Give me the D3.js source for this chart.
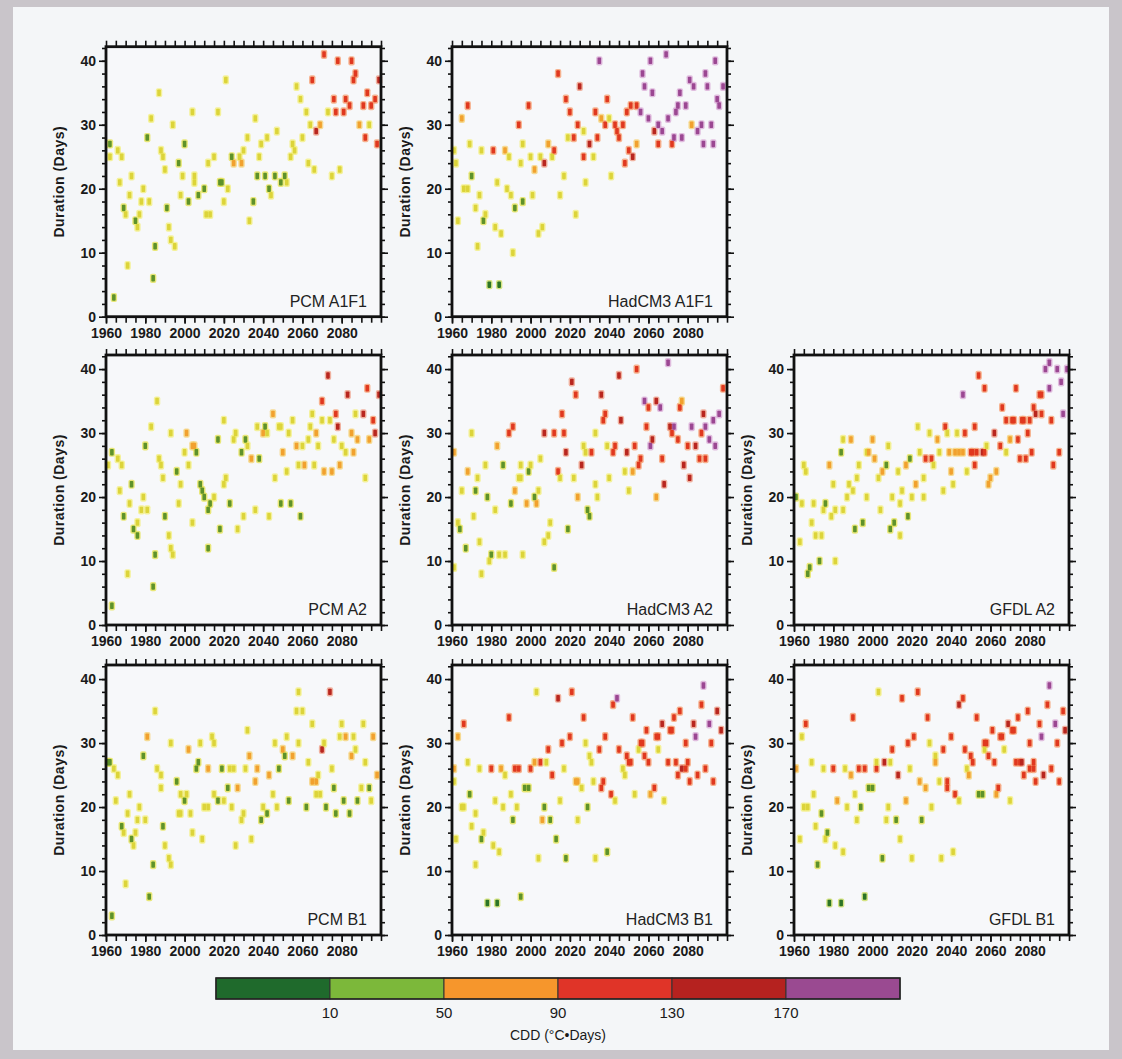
<!DOCTYPE html>
<html><head><meta charset="utf-8">
<script src="https://cdn.jsdelivr.net/npm/d3@7"></script>
<style>body{margin:0;background:#c9c5ca;} svg{display:block}</style>
</head><body><svg id="c" width="1122" height="1059"></svg>
<script>
// ---- tick labels / legend ----
const xTickLabels = [1960, 1980, 2000, 2020, 2040, 2060, 2080];
const yTickLabels = [0, 10, 20, 30, 40];
const cddBreaks = [10, 50, 90, 130, 170];
const cddLegendColors = ["#1f6a2c", "#7cb83a", "#f6962c", "#e03428", "#b5221f", "#9a4a91"];
const cddTitle = "CDD (°C•Days)";
const yTitle = "Duration (Days)";

// ---- data: [year, duration (days), CDD (°C·days)] ----
const pcmA1F1 = [[1962,27,25],[1962,25,40],[1964,3,25],[1966,26,40],[1968,25,40],[1967,21,40],[1969,17,25],[1970,16,40],[1971,8,40],[1972,19,40],[1973,22,40],[1975,15,25],[1976,14,40],[1977,16,40],[1978,18,40],[1979,20,40],[1981,28,25],[1982,18,40],[1983,31,40],[1984,6,25],[1985,11,25],[1987,35,40],[1988,26,40],[1989,25,40],[1990,23,40],[1991,17,25],[1992,14,40],[1993,12,40],[1995,11,40],[1994,30,40],[1997,24,25],[1998,19,40],[1999,22,40],[2000,27,25],[2002,18,25],[2004,32,40],[2005,21,40],[2005,22,40],[2007,19,25],[2010,20,25],[2011,16,40],[2013,16,40],[2012,24,40],[2015,25,40],[2017,32,40],[2018,21,25],[2019,21,25],[2020,18,40],[2021,37,40],[2022,20,40],[2024,25,25],[2025,24,70],[2028,25,40],[2029,24,70],[2030,26,40],[2032,28,40],[2033,15,40],[2035,18,25],[2036,31,40],[2037,22,25],[2038,25,40],[2039,27,40],[2041,22,25],[2042,28,40],[2043,20,25],[2044,19,40],[2046,22,25],[2047,29,40],[2049,21,25],[2051,22,25],[2052,21,40],[2054,25,40],[2055,27,40],[2056,26,40],[2057,36,45],[2059,34,40],[2060,28,40],[2062,32,40],[2063,24,40],[2066,23,40],[2064,30,40],[2065,37,110],[2067,29,150],[2069,30,70],[2071,41,110],[2073,32,45],[2075,22,40],[2076,34,110],[2077,32,110],[2078,40,110],[2079,23,40],[2081,32,110],[2082,34,110],[2084,33,110],[2085,40,110],[2086,37,110],[2087,38,110],[2089,30,70],[2091,33,110],[2092,28,110],[2093,35,110],[2094,30,40],[2095,33,110],[2097,34,110],[2098,27,110],[2099,37,150]];

const hadA1F1 = [[1961,26,40],[1962,24,40],[1963,15,40],[1965,31,70],[1966,20,40],[1968,20,40],[1968,33,110],[1969,27,40],[1970,22,25],[1972,17,40],[1973,11,40],[1974,19,40],[1975,26,40],[1976,15,25],[1977,16,40],[1979,5,5],[1981,26,110],[1982,14,40],[1983,21,40],[1984,5,5],[1985,13,40],[1987,26,70],[1988,20,40],[1989,25,40],[1990,19,40],[1991,10,40],[1992,17,25],[1994,30,110],[1995,24,40],[1996,18,25],[1996,27,40],[1999,33,110],[2000,25,40],[2001,19,40],[2002,23,70],[2004,13,40],[2006,14,40],[2005,25,40],[2007,24,150],[2009,27,70],[2011,25,45],[2012,26,110],[2014,38,110],[2015,19,40],[2017,22,40],[2018,34,110],[2019,28,40],[2020,32,110],[2022,28,110],[2023,16,40],[2024,30,110],[2025,36,150],[2027,29,40],[2027,25,110],[2028,21,40],[2030,27,150],[2032,25,40],[2033,32,110],[2034,28,110],[2035,40,190],[2036,31,70],[2038,30,110],[2039,34,110],[2040,31,40],[2041,22,45],[2043,30,110],[2044,29,110],[2045,28,110],[2047,30,110],[2048,24,110],[2049,32,110],[2050,26,110],[2051,33,110],[2052,25,150],[2054,33,110],[2054,27,70],[2056,32,190],[2057,38,190],[2058,36,190],[2060,31,190],[2061,40,190],[2062,35,190],[2063,29,150],[2065,30,190],[2065,27,110],[2067,29,190],[2069,41,190],[2070,31,190],[2072,27,110],[2073,28,190],[2074,32,190],[2075,33,190],[2076,35,190],[2077,28,190],[2079,33,190],[2081,37,190],[2082,30,70],[2083,36,190],[2085,29,190],[2087,30,190],[2088,27,190],[2089,38,190],[2090,36,190],[2092,30,190],[2093,27,190],[2094,40,190],[2095,34,190],[2096,33,190],[2098,36,190]];

const pcmA2 = [[1961,25,40],[1963,27,25],[1963,3,25],[1966,26,40],[1967,21,40],[1968,25,40],[1969,17,25],[1971,8,40],[1972,19,40],[1973,22,25],[1974,15,25],[1976,14,25],[1976,16,40],[1978,18,40],[1979,20,40],[1980,28,25],[1981,18,40],[1983,31,40],[1984,6,25],[1985,11,25],[1986,35,40],[1987,26,40],[1988,25,40],[1989,23,40],[1990,17,25],[1992,14,40],[1993,12,40],[1994,11,40],[1993,30,40],[1996,24,25],[1997,19,40],[1998,22,40],[2000,27,40],[2001,30,70],[2002,25,40],[2004,16,40],[2004,28,70],[2005,28,70],[2006,27,25],[2008,22,25],[2009,21,25],[2010,20,25],[2012,18,25],[2012,12,25],[2013,19,25],[2015,20,40],[2017,29,25],[2018,15,25],[2020,22,40],[2021,23,40],[2020,32,40],[2023,19,25],[2025,29,40],[2026,30,40],[2027,15,40],[2029,27,25],[2030,17,40],[2031,29,25],[2032,28,40],[2034,26,70],[2036,18,40],[2037,31,40],[2038,26,25],[2040,30,70],[2041,31,25],[2042,30,40],[2043,17,40],[2045,33,70],[2046,23,40],[2048,31,40],[2049,19,25],[2049,31,40],[2050,27,70],[2052,24,45],[2053,30,40],[2054,19,25],[2055,32,40],[2057,28,70],[2058,25,40],[2059,17,25],[2060,28,40],[2061,25,70],[2063,29,40],[2064,31,40],[2065,33,40],[2066,25,40],[2067,30,70],[2068,28,40],[2070,35,110],[2070,32,40],[2071,24,70],[2073,39,150],[2074,32,40],[2075,24,70],[2076,29,40],[2077,33,110],[2078,31,150],[2079,25,70],[2080,28,40],[2082,27,40],[2083,36,150],[2085,30,70],[2086,27,70],[2087,33,40],[2088,29,70],[2091,33,150],[2092,23,40],[2093,37,110],[2094,29,70],[2096,32,110],[2097,30,150],[2099,36,150]];

const hadA2 = [[1961,27,70],[1961,9,40],[1963,16,40],[1964,15,25],[1965,21,40],[1967,12,25],[1968,24,70],[1970,30,45],[1971,17,40],[1972,21,25],[1973,23,40],[1974,13,40],[1975,8,40],[1977,25,40],[1978,20,25],[1979,10,40],[1980,11,25],[1982,18,40],[1983,28,70],[1984,11,40],[1987,11,40],[1986,25,25],[1989,30,110],[1990,19,25],[1991,31,110],[1992,21,70],[1994,23,40],[1995,25,40],[1995,23,40],[1996,11,40],[1998,19,70],[1999,24,25],[2000,25,40],[2002,20,25],[2003,19,70],[2004,21,40],[2005,26,40],[2007,30,150],[2007,13,40],[2009,14,40],[2010,16,40],[2012,30,110],[2012,9,25],[2014,24,110],[2015,23,40],[2016,33,110],[2017,30,110],[2018,27,150],[2019,15,25],[2021,38,150],[2022,23,40],[2023,36,110],[2024,20,70],[2026,25,150],[2027,28,40],[2028,27,40],[2029,18,25],[2030,17,25],[2031,27,110],[2033,22,40],[2033,30,40],[2034,20,40],[2036,36,150],[2037,32,110],[2038,33,110],[2039,28,40],[2040,23,30],[2042,27,110],[2043,28,110],[2045,39,150],[2046,32,150],[2048,24,40],[2049,27,150],[2050,21,40],[2052,24,70],[2053,28,110],[2054,40,110],[2055,25,110],[2056,26,110],[2058,35,190],[2059,31,110],[2060,34,110],[2061,28,190],[2062,29,150],[2064,20,70],[2064,35,150],[2066,34,190],[2067,26,110],[2068,22,150],[2070,41,190],[2071,31,150],[2072,30,110],[2073,31,190],[2075,29,110],[2076,34,110],[2077,35,70],[2078,25,150],[2080,28,110],[2081,23,150],[2082,31,190],[2084,28,150],[2086,26,110],[2089,26,110],[2087,30,110],[2088,33,150],[2089,31,190],[2091,29,190],[2093,32,190],[2094,28,190],[2096,33,190],[2098,37,110]];

const gfdlA2 = [[1961,20,25],[1963,13,40],[1964,19,40],[1965,25,40],[1966,24,40],[1967,8,25],[1968,9,25],[1969,16,40],[1970,19,40],[1971,14,40],[1974,14,40],[1973,10,25],[1975,18,40],[1976,19,25],[1978,25,70],[1979,17,40],[1980,22,40],[1981,10,40],[1981,18,40],[1984,27,25],[1985,29,40],[1985,18,40],[1987,20,40],[1988,22,40],[1989,29,70],[1990,21,40],[1991,15,25],[1992,23,40],[1993,25,40],[1995,16,25],[1997,27,40],[1998,27,70],[1997,20,40],[2000,29,70],[2001,26,70],[2003,23,40],[2004,18,40],[2005,24,70],[2007,25,25],[2008,28,40],[2009,15,25],[2011,16,25],[2010,20,40],[2013,24,40],[2014,19,40],[2014,14,40],[2015,21,40],[2017,25,70],[2018,17,25],[2019,26,25],[2020,20,40],[2022,22,70],[2023,31,40],[2024,27,40],[2026,23,30],[2026,20,40],[2027,26,110],[2030,26,110],[2029,30,40],[2031,25,40],[2033,29,70],[2034,27,40],[2036,21,40],[2037,31,110],[2038,30,40],[2039,27,70],[2040,24,70],[2041,22,45],[2042,27,70],[2043,30,40],[2044,27,70],[2046,36,190],[2046,27,70],[2047,30,110],[2048,24,40],[2050,27,110],[2051,27,110],[2052,31,110],[2052,25,110],[2053,27,110],[2054,39,110],[2056,27,150],[2057,27,110],[2057,37,110],[2058,28,40],[2059,22,70],[2060,23,70],[2062,30,150],[2063,24,70],[2065,28,110],[2066,34,110],[2068,32,110],[2068,27,40],[2070,29,70],[2071,32,110],[2072,32,110],[2073,37,110],[2074,29,110],[2075,26,110],[2078,26,110],[2076,32,110],[2077,32,110],[2079,30,110],[2080,32,110],[2081,27,110],[2082,34,110],[2083,33,150],[2085,36,110],[2086,36,110],[2086,33,110],[2088,40,190],[2090,41,190],[2090,37,190],[2091,32,110],[2092,25,110],[2094,40,190],[2095,27,110],[2096,38,190],[2097,33,190],[2099,40,190]];

const pcmB1 = [[1961,27,25],[1962,27,25],[1963,3,25],[1964,26,40],[1966,25,40],[1965,21,40],[1968,17,25],[1969,16,40],[1970,8,40],[1971,19,40],[1972,22,40],[1973,15,25],[1974,14,40],[1975,16,40],[1976,18,40],[1977,20,40],[1979,28,25],[1980,18,40],[1981,31,70],[1982,6,25],[1984,11,25],[1985,35,40],[1986,26,40],[1988,25,40],[1988,23,40],[1989,17,25],[1990,14,40],[1992,12,40],[1993,11,40],[1993,30,40],[1996,24,25],[1997,19,40],[1998,19,40],[1998,22,40],[2000,21,25],[2001,22,40],[2002,29,70],[2003,19,40],[2004,16,40],[2006,26,25],[2007,27,25],[2008,30,40],[2009,15,40],[2010,20,40],[2012,20,40],[2012,26,70],[2014,31,40],[2015,30,40],[2015,22,40],[2017,21,25],[2019,26,25],[2020,21,40],[2022,23,25],[2023,26,40],[2025,26,40],[2024,20,40],[2026,14,40],[2027,23,70],[2029,18,40],[2030,19,40],[2031,26,40],[2032,32,40],[2033,28,70],[2034,15,40],[2036,24,70],[2037,26,70],[2039,18,25],[2040,20,40],[2042,19,25],[2043,25,70],[2045,22,40],[2046,30,40],[2047,20,40],[2048,26,25],[2050,29,70],[2051,28,25],[2052,31,40],[2053,21,25],[2055,28,70],[2057,35,40],[2058,38,45],[2058,30,40],[2060,35,45],[2062,20,25],[2063,27,40],[2065,33,40],[2065,24,70],[2067,24,70],[2067,22,40],[2069,22,40],[2068,25,40],[2070,29,150],[2071,30,40],[2072,20,25],[2074,38,150],[2075,26,40],[2076,23,25],[2077,19,25],[2079,31,40],[2080,33,40],[2081,21,25],[2082,31,70],[2084,19,25],[2085,28,70],[2086,31,40],[2087,29,40],[2088,21,25],[2090,23,40],[2091,33,40],[2092,27,40],[2094,23,25],[2095,21,40],[2096,31,70],[2098,25,70]];

const hadB1 = [[1961,26,70],[1961,24,45],[1962,15,40],[1963,31,70],[1965,20,40],[1966,20,40],[1966,33,110],[1968,27,40],[1969,22,25],[1970,17,40],[1972,11,40],[1972,19,40],[1974,26,40],[1975,15,25],[1976,16,40],[1978,5,5],[1980,26,110],[1981,14,40],[1982,21,40],[1983,5,5],[1984,13,40],[1985,26,70],[1986,20,40],[1987,25,40],[1989,34,110],[1990,22,40],[1991,18,25],[1992,26,110],[1994,26,110],[1993,20,40],[1995,6,25],[1997,23,25],[1999,23,25],[2000,26,110],[2002,27,70],[2003,38,45],[2004,12,40],[2005,27,110],[2006,18,70],[2007,20,25],[2008,27,40],[2009,29,110],[2010,18,25],[2011,25,110],[2013,15,25],[2014,37,150],[2015,21,40],[2016,30,110],[2017,26,40],[2018,12,25],[2020,31,110],[2021,38,110],[2023,24,70],[2024,24,70],[2024,18,40],[2026,23,40],[2027,34,110],[2028,30,40],[2029,20,25],[2030,28,40],[2031,27,40],[2032,24,40],[2033,12,40],[2035,29,110],[2036,23,110],[2037,24,110],[2038,31,110],[2039,13,25],[2041,22,110],[2042,36,110],[2043,21,40],[2044,37,190],[2045,29,110],[2047,26,40],[2048,25,40],[2049,28,110],[2050,27,110],[2051,27,110],[2052,34,110],[2053,22,40],[2055,29,45],[2056,30,110],[2057,30,110],[2058,28,110],[2059,32,110],[2060,27,110],[2061,22,70],[2063,23,110],[2064,31,110],[2065,31,110],[2065,29,40],[2067,33,150],[2068,21,40],[2070,27,110],[2071,32,110],[2072,32,110],[2073,34,110],[2074,27,110],[2075,25,110],[2076,35,110],[2077,26,150],[2079,26,110],[2079,30,110],[2080,27,110],[2081,24,110],[2083,33,150],[2084,31,190],[2085,25,110],[2087,36,110],[2088,39,190],[2089,26,110],[2091,33,190],[2092,30,110],[2093,24,110],[2095,35,150],[2097,32,150]];

const gfdlB1 = [[1961,26,70],[1963,15,40],[1964,31,40],[1965,20,40],[1967,20,40],[1966,33,110],[1969,27,40],[1970,22,40],[1971,17,40],[1972,11,25],[1974,19,25],[1975,26,40],[1976,15,40],[1977,16,25],[1978,5,5],[1980,26,110],[1981,14,40],[1982,21,70],[1984,5,5],[1985,13,40],[1986,26,40],[1987,20,40],[1989,25,70],[1990,34,110],[1991,22,40],[1992,18,40],[1993,26,110],[1996,26,110],[1994,20,25],[1996,6,5],[1998,23,25],[2000,23,25],[2002,26,110],[2002,27,40],[2003,38,45],[2005,12,25],[2006,27,150],[2007,18,40],[2008,20,40],[2009,27,40],[2010,29,110],[2012,18,25],[2013,25,150],[2014,15,40],[2015,37,110],[2017,21,70],[2018,30,110],[2019,26,40],[2020,12,40],[2021,31,110],[2023,38,110],[2024,24,70],[2025,18,25],[2027,23,70],[2028,34,110],[2029,30,40],[2030,20,40],[2032,28,40],[2032,27,70],[2034,24,40],[2035,12,40],[2036,29,110],[2038,23,110],[2038,24,110],[2040,31,110],[2041,13,40],[2042,22,110],[2044,36,150],[2044,21,40],[2046,37,110],[2047,29,110],[2048,26,40],[2049,25,70],[2050,28,110],[2051,27,110],[2053,34,110],[2054,22,25],[2056,22,25],[2057,29,45],[2057,30,110],[2058,30,110],[2059,28,110],[2061,32,110],[2062,27,110],[2063,22,70],[2064,23,110],[2065,31,110],[2066,31,110],[2067,29,45],[2069,33,150],[2070,21,40],[2071,32,110],[2072,32,110],[2073,27,110],[2074,34,110],[2075,27,110],[2076,27,150],[2077,25,110],[2079,35,110],[2080,26,110],[2082,26,110],[2080,30,110],[2082,27,110],[2083,24,110],[2085,33,110],[2086,31,190],[2087,25,150],[2089,36,110],[2090,39,190],[2091,26,110],[2093,33,190],[2094,30,110],[2095,24,110],[2097,35,110],[2098,32,150]];

const panelNames = ["PCM A1F1","HadCM3 A1F1","PCM A2","HadCM3 A2","GFDL A2","PCM B1","HadCM3 B1","GFDL B1"];
const panelData = [pcmA1F1, hadA1F1, pcmA2, hadA2, gfdlA2, pcmB1, hadB1, gfdlB1];
const panelCells = [[0,0],[1,0],[0,1],[1,1],[2,1],[0,2],[1,2],[2,2]];

// ---- layout ----
const svg = d3.select("#c");
const FONT = "'Liberation Sans', Arial, Helvetica, sans-serif";
svg.append("rect").attr("width",1122).attr("height",1059).attr("fill","#c9c5ca");
svg.append("rect").attr("x",13).attr("y",7).attr("width",1096).attr("height",1043).attr("fill","#f4f6f8");

const colLeft = [106, 452, 794];
const rowTop = [46.7, 355, 665];
const W = 275, H = 270;

// mark colour: fine-grained within the legend classes
const markColor = d3.scaleThreshold()
  .domain([10, 30, 50, 90, 130, 170])
  .range(["#2c7426", "#5e922a", "#dcd43a", "#f1a12e", "#e0381f", "#b8261f", "#9b4792"]);
const haloColor = d3.scaleThreshold()
  .domain([10, 30, 50, 90, 130, 170])
  .range(["#c8dc5a", "#e4e24c", "#f3ef7a", "#f6d070", "#f59a6a", "#ee9a80", "#d8a8d4"]);

panelNames.forEach((name, i) => {
  const [c, r] = panelCells[i];
  const g = svg.append("g").attr("transform", `translate(${colLeft[c]},${rowTop[r]})`);
  const x = d3.scaleLinear().domain([1960, 2100]).range([0, W]);
  const y = d3.scaleLinear().domain([0, 42.2]).range([H, 0]);

  g.append("rect").attr("width", W).attr("height", H).attr("fill", "#f7f8fa");

  // halos then marks
  g.append("g").selectAll("rect").data(panelData[i]).join("rect")
    .attr("x", d => x(d[0]) - 3.2)
    .attr("y", d => y(d[1]) - 4.6)
    .attr("width", 6.4).attr("height", 9.2)
    .attr("rx", 2)
    .attr("fill", d => haloColor(d[2])).attr("opacity", 0.75);
  g.append("g").selectAll("rect").data(panelData[i]).join("rect")
    .attr("x", d => x(d[0]) - 1.8)
    .attr("y", d => y(d[1]) - 3.2)
    .attr("width", 3.6).attr("height", 6.4)
    .attr("rx", 0.8)
    .attr("fill", d => markColor(d[2]));

  const minorX = d3.range(1960, 2101, 5);
  const minorY = d3.range(0, 43, 2);
  const styleAxis = sel => {
    sel.select(".domain").remove();
    sel.selectAll("line").attr("stroke", "#111").attr("stroke-width", 1.6);
    sel.selectAll("text").attr("font-family", FONT).attr("font-size", 14)
      .attr("font-weight", "bold").attr("fill", "#1a1a1a");
  };
  // bottom
  g.append("g").attr("transform", `translate(0,${H})`)
    .call(d3.axisBottom(x).tickValues(minorX).tickSize(6).tickFormat("")).call(styleAxis);
  g.append("g").attr("transform", `translate(0,${H})`)
    .call(d3.axisBottom(x).tickValues(xTickLabels).tickSize(7).tickPadding(4).tickFormat(d3.format("d"))).call(styleAxis);
  // top
  g.append("g").call(d3.axisTop(x).tickValues(minorX).tickSize(6).tickFormat("")).call(styleAxis);
  // left
  g.append("g").call(d3.axisLeft(y).tickValues(minorY).tickSize(4).tickFormat("")).call(styleAxis);
  g.append("g").call(d3.axisLeft(y).tickValues(yTickLabels).tickSize(7).tickPadding(3).tickFormat(d3.format("d"))).call(styleAxis);
  // right
  g.append("g").attr("transform", `translate(${W},0)`)
    .call(d3.axisRight(y).tickValues(minorY).tickSize(4).tickFormat("")).call(styleAxis);
  g.append("g").attr("transform", `translate(${W},0)`)
    .call(d3.axisRight(y).tickValues(yTickLabels).tickSize(7).tickFormat("")).call(styleAxis);

  // frame
  g.append("rect").attr("width", W).attr("height", H).attr("fill", "none")
    .attr("stroke", "#111").attr("stroke-width", 2.8);

  // panel label
  g.append("text").attr("x", W - 14).attr("y", H - 10).attr("text-anchor", "end")
    .attr("font-family", FONT).attr("font-size", 16).attr("fill", "#222").text(name);

  // y title
  g.append("text").attr("transform", `translate(-42,${H/2}) rotate(-90)`)
    .attr("text-anchor", "middle").attr("font-family", FONT).attr("font-size", 14)
    .attr("font-weight", "bold").attr("letter-spacing", 0.5).attr("fill", "#1a1a1a").text(yTitle);
});

// ---- colour bar ----
const cb = svg.append("g");
const cbX = d3.scaleLinear().domain([0, cddLegendColors.length]).range([216, 900]);
const cbY = 978, cbH = 21;
cb.selectAll("rect").data(cddLegendColors).join("rect")
  .attr("x", (d, i) => cbX(i)).attr("y", cbY)
  .attr("width", (d, i) => cbX(i + 1) - cbX(i)).attr("height", cbH)
  .attr("fill", d => d).attr("stroke", "#333").attr("stroke-width", 1);
cb.append("rect").attr("x", cbX(0)).attr("y", cbY).attr("width", cbX(6) - cbX(0)).attr("height", cbH)
  .attr("fill", "none").attr("stroke", "#222").attr("stroke-width", 1.5);
cb.selectAll("text.lab").data(cddBreaks).join("text").attr("class", "lab")
  .attr("x", (d, i) => cbX(i + 1)).attr("y", 1018).attr("text-anchor", "middle")
  .attr("font-family", FONT).attr("font-size", 15).attr("fill", "#1a1a1a").text(d => d);
cb.append("text").attr("x", 558).attr("y", 1040).attr("text-anchor", "middle")
  .attr("font-family", FONT).attr("font-size", 14).attr("fill", "#1a1a1a").text(cddTitle);
</script></body></html>
